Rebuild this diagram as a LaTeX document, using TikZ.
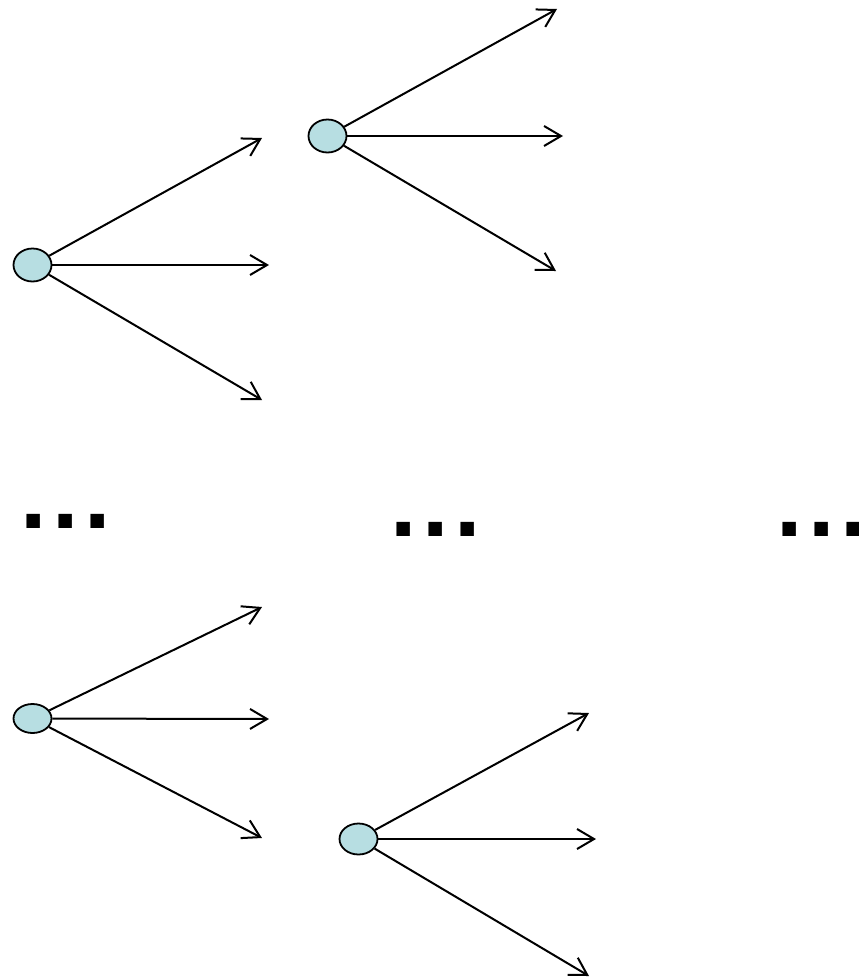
\documentclass[tikz,border=0pt]{standalone}
\usepackage{fontspec}
\newfontfamily\prikkfont{Liberation Sans}
\usetikzlibrary{arrows.meta,shapes.geometric}
\definecolor{knutefarge}{RGB}{183,222,226}
\tikzstyle{line} = [draw, -{Straight Barb[length=17pt, width=20pt]}, line width=2pt]
\tikzstyle{knute} = [draw, ellipse, fill=knutefarge, line width=1.8pt, inner sep=0pt, minimum width=38pt, minimum height=33pt]
\tikzstyle{prikker} = [font=\prikkfont\bfseries\fontsize{95}{95}\selectfont, inner sep=0pt, anchor=base west]
\newcommand{\tredots}{.\kern5.6pt.\kern5.6pt.}

\begin{document}
\begin{tikzpicture}[x=1pt, y=-1pt]
        \useasboundingbox (0,0) rectangle (859,977);
        
        % knutene
        \node[knute] (knute1) at (32.5,265) {};
        \node[knute] (knute2) at (327.5,136) {};
        \node[knute, minimum height=29pt] (knute3) at (32.5,718.5) {};
        \node[knute, minimum height=31pt] (knute4) at (358.5,839) {};
        
        % endepunkter
        \coordinate (ende1a) at (262,138);
        \coordinate (ende1b) at (269,265);
        \coordinate (ende1c) at (262,400);
        \coordinate (ende2a) at (557,9);
        \coordinate (ende2b) at (563,136);
        \coordinate (ende2c) at (556,271);
        \coordinate (ende3a) at (262,607);
        \coordinate (ende3b) at (269,719);
        \coordinate (ende3c) at (262,838);
        \coordinate (ende4a) at (589,713);
        \coordinate (ende4b) at (596,839);
        \coordinate (ende4c) at (589,976);
        
        \foreach \k in {1,2,3,4}
            \foreach \e in {a,b,c}
                \draw[line] (knute\k) -- (ende\k\e);
        
        % prikker
        \node[prikker] (prikker1) at (20.6,528) {\tredots};
        \node[prikker] (prikker2) at (390.6,536) {\tredots};
        \node[prikker] (prikker3) at (776.6,536) {\tredots};
    \end{tikzpicture}
\end{document}
